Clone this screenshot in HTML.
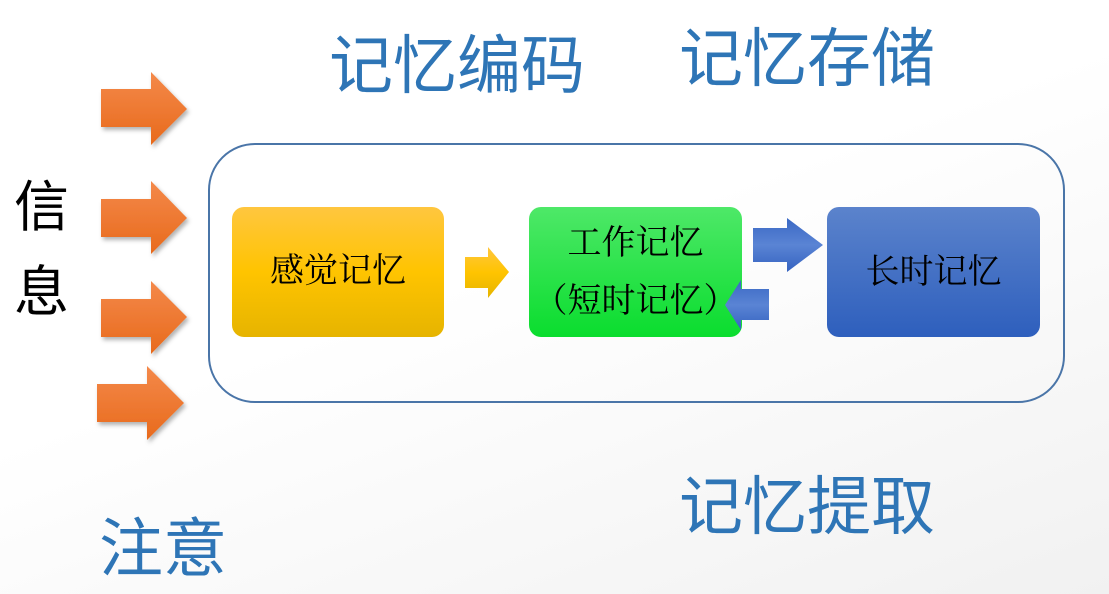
<!DOCTYPE html>
<html><head><meta charset="utf-8"><style>
html,body{margin:0;padding:0}
body{width:1109px;height:594px;position:relative;overflow:hidden;background:linear-gradient(160deg,#ffffff 0%,#ffffff 45%,#f1f1f1 100%);font-family:"Liberation Sans","Noto Sans CJK SC",sans-serif}
.t{position:absolute;white-space:nowrap;line-height:1}
.blue{color:#2e75b6;font-size:64px}
.box{font-family:"Liberation Serif","Noto Serif CJK SC",serif;font-size:34px;color:#000}
svg{position:absolute;left:0;top:0}
</style></head><body>
<svg width="1109" height="594">
<defs>
<linearGradient id="or" x1="0" y1="0" x2="0" y2="1"><stop offset="0" stop-color="#f4894a"/><stop offset="1" stop-color="#e86a1c"/></linearGradient>
<linearGradient id="ye" x1="0" y1="0" x2="0" y2="1"><stop offset="0" stop-color="#ffc63f"/><stop offset="0.5" stop-color="#ffc400"/><stop offset="1" stop-color="#e6b400"/></linearGradient>
<linearGradient id="gr" x1="0" y1="0" x2="0" y2="1"><stop offset="0" stop-color="#4ee868"/><stop offset="1" stop-color="#0add2e"/></linearGradient>
<linearGradient id="bl" x1="0" y1="0" x2="0" y2="1"><stop offset="0" stop-color="#5b83cc"/><stop offset="1" stop-color="#2e5fbd"/></linearGradient>
<linearGradient id="ba" x1="0" y1="0" x2="0" y2="1"><stop offset="0" stop-color="#3a68c4"/><stop offset="0.5" stop-color="#5a84d4"/><stop offset="1" stop-color="#3462c0"/></linearGradient>
<filter id="sh"><feDropShadow dx="2" dy="3" stdDeviation="2" flood-color="#000" flood-opacity="0.3"/></filter>
</defs>
<g fill="url(#or)" filter="url(#sh)">
<polygon points="101,89 151,89 151,72 187,109 151,145 151,127 101,127"/>
<polygon points="101,199 151,199 151,181 187,218 151,254 151,237 101,237"/>
<polygon points="101,299 151,299 151,281 187,317 151,354 151,337 101,337"/>
<polygon points="97,384 147,384 147,366 184,403 147,440 147,422 97,422"/>
</g>
<rect x="209" y="144" width="855" height="258" rx="46" fill="none" stroke="#4a75a8" stroke-width="2"/>
<rect x="232" y="207" width="212" height="130" rx="12" fill="url(#ye)"/>
<rect x="529" y="207" width="213" height="130" rx="12" fill="url(#gr)"/>
<rect x="827" y="207" width="213" height="130" rx="12" fill="url(#bl)"/>
<polygon points="465,257 488,257 488,247 509,272 488,298 488,288 465,288" fill="url(#ye)"/>
<polygon points="753,228 787,228 787,218 823,245 787,272 787,262 753,262" fill="url(#ba)"/>
<polygon points="769,289 741,289 741,280 725,305 741,330 741,320 769,320" fill="url(#ba)"/>
</svg>
<div class="t blue" style="left:329px;top:34px">记忆编码</div>
<div class="t blue" style="left:679px;top:27px">记忆存储</div>
<div class="t blue" style="left:679px;top:475px">记忆提取</div>
<div class="t blue" style="left:99px;top:517px">注意</div>
<div class="t" style="left:14px;top:180px;font-size:55px;color:#000">信</div>
<div class="t" style="left:14px;top:265px;font-size:55px;color:#000">息</div>
<div class="t box" style="left:232px;width:212px;text-align:center;top:255px">感觉记忆</div>
<div class="t box" style="left:529px;width:213px;text-align:center;top:227px">工作记忆</div>
<div class="t box" style="left:529px;width:213px;text-align:center;top:285px">（短时记忆）</div>
<div class="t box" style="left:827px;width:213px;text-align:center;top:256px">长时记忆</div>
</body></html>
